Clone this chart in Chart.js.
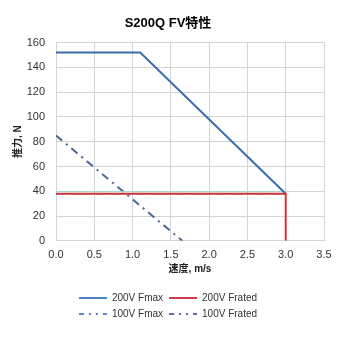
<!DOCTYPE html>
<html>
<head>
<meta charset="utf-8">
<script src="https://cdn.jsdelivr.net/npm/chart.js@4/dist/chart.umd.min.js"></script>
<style>
  html, body { margin: 0; padding: 0; background: #fff; }
  #box { width: 345px; height: 345px; }
</style>
</head>
<body>
<div id="box"><canvas id="fvChart"></canvas></div>
<script>
// 速度 (m/s) と 推力 (N)
const fmax200Speed = [0, 1.1, 3.0];
const fmax200Force = [152, 152, 38];
const frated200Speed = [0, 3.0, 3.0];
const frated200Force = [38, 38, 0];
const fmax100Speed = [0, 1.65];
const fmax100Force = [85, 0];
const frated100Speed = [0, 3.0];
const frated100Force = [38, 38];
// 赤線の少し上に見える薄い線
const guideSpeed = [0, 3.0];
const guideForce = [39.7, 39.7];

const xTicks = [0, 0.5, 1.0, 1.5, 2.0, 2.5, 3.0, 3.5];
const yTicks = [0, 20, 40, 60, 80, 100, 120, 140, 160];

const pts = (xs, ys) => xs.map((x, i) => ({ x: x, y: ys[i] }));
const font = 'Arial, "Liberation Sans", "Noto Sans CJK JP", sans-serif';
const dashDot = [8, 5, 2, 5];
const legendDash = [5, 5, 2, 5, 2, 5];

// 凡例を2列にするため、行の計算だけ狭い幅で行う
const legendRows = {
  id: 'legendRows',
  beforeLayout(chart) {
    const lg = chart.legend;
    if (!lg || lg._patched) return;
    const orig = lg.update.bind(lg);
    lg.update = (maxW, maxH, margins) => orig(Math.min(maxW, 230), maxH, margins);
    lg._patched = true;
  }
};

const legendColors = ['#4a84c4', '#cc3d48', '#5a86bf', '#6a6a98'];

const ctx = document.getElementById('fvChart').getContext('2d');
new Chart(ctx, {
  type: 'scatter',
  data: {
    datasets: [
      {
        label: '200V Fmax',
        data: pts(fmax200Speed, fmax200Force),
        borderColor: '#3b6cad', backgroundColor: '#3b6cad',
        borderWidth: 2, showLine: true, pointRadius: 0, order: 1
      },
      {
        label: '200V Frated',
        data: pts(frated200Speed, frated200Force),
        borderColor: '#c8363d', backgroundColor: '#c8363d',
        borderWidth: 2, showLine: true, pointRadius: 0, order: 0
      },
      {
        label: '100V Fmax',
        data: pts(fmax100Speed, fmax100Force),
        borderColor: '#4b6792', backgroundColor: '#4b6792',
        borderWidth: 2, borderDash: dashDot, showLine: true, pointRadius: 0, order: 3
      },
      {
        label: '100V Frated',
        data: pts(frated100Speed, frated100Force),
        borderColor: '#44447f', backgroundColor: '#44447f',
        borderWidth: 1, borderDash: dashDot, showLine: true, pointRadius: 0, order: 4
      },
      {
        label: '',
        data: pts(guideSpeed, guideForce),
        borderColor: '#a3dad3', backgroundColor: '#a3dad3',
        borderWidth: 1, showLine: true, pointRadius: 0, order: 2
      }
    ]
  },
  options: {
    responsive: true,
    maintainAspectRatio: false,
    animation: false,
    layout: { padding: { left: 12, right: 21, top: 0, bottom: 16 } },
    plugins: {
      title: {
        display: true,
        text: 'S200Q FV特性',
        color: '#000',
        font: { family: font, size: 13, weight: 'bold' },
        padding: { top: 16, bottom: 11 }
      },
      legend: {
        position: 'bottom',
        labels: {
          filter: item => item.text !== '',
          sort: (a, b) => a.datasetIndex - b.datasetIndex,
          generateLabels: chart => {
            const items = Chart.defaults.plugins.legend.labels.generateLabels(chart);
            items.forEach(it => {
              const ds = chart.data.datasets[it.datasetIndex];
              it.lineDash = ds.borderDash ? legendDash : [];
              it.lineWidth = 2;
              if (legendColors[it.datasetIndex]) it.strokeStyle = legendColors[it.datasetIndex];
            });
            return items;
          },
          usePointStyle: true,
          pointStyle: 'line',
          pointStyleWidth: 28,
          boxHeight: 10,
          padding: 6,
          color: '#333',
          font: { family: font, size: 10 }
        }
      },
      tooltip: { enabled: false }
    },
    scales: {
      x: {
        type: 'linear',
        min: 0, max: 3.5,
        afterBuildTicks: s => { s.ticks = xTicks.map(v => ({ value: v })); },
        ticks: {
          callback: v => Number(v).toFixed(1),
          color: '#333', padding: 8,
          font: { family: font, size: 11 }
        },
        grid: { color: '#d4d4d4', lineWidth: 1, drawTicks: false },
        border: { color: '#d4d4d4' },
        title: {
          display: true, text: '速度, m/s', color: '#222',
          font: { family: font, size: 10, weight: 'bold' },
          padding: { top: -7, bottom: 12 }
        }
      },
      y: {
        min: 0, max: 160,
        afterBuildTicks: s => { s.ticks = yTicks.map(v => ({ value: v })); },
        afterFit: s => { s.width = 44; },
        ticks: {
          color: '#333', padding: 11,
          font: { family: font, size: 11 }
        },
        grid: { color: '#d4d4d4', lineWidth: 1, drawTicks: false },
        border: { color: '#d4d4d4' },
        title: {
          display: true, text: '推力, N', color: '#222',
          font: { family: font, size: 10, weight: 'bold' },
          padding: { top: 0, bottom: 2 }
        }
      }
    }
  },
  plugins: [legendRows]
});
</script>
</body>
</html>
